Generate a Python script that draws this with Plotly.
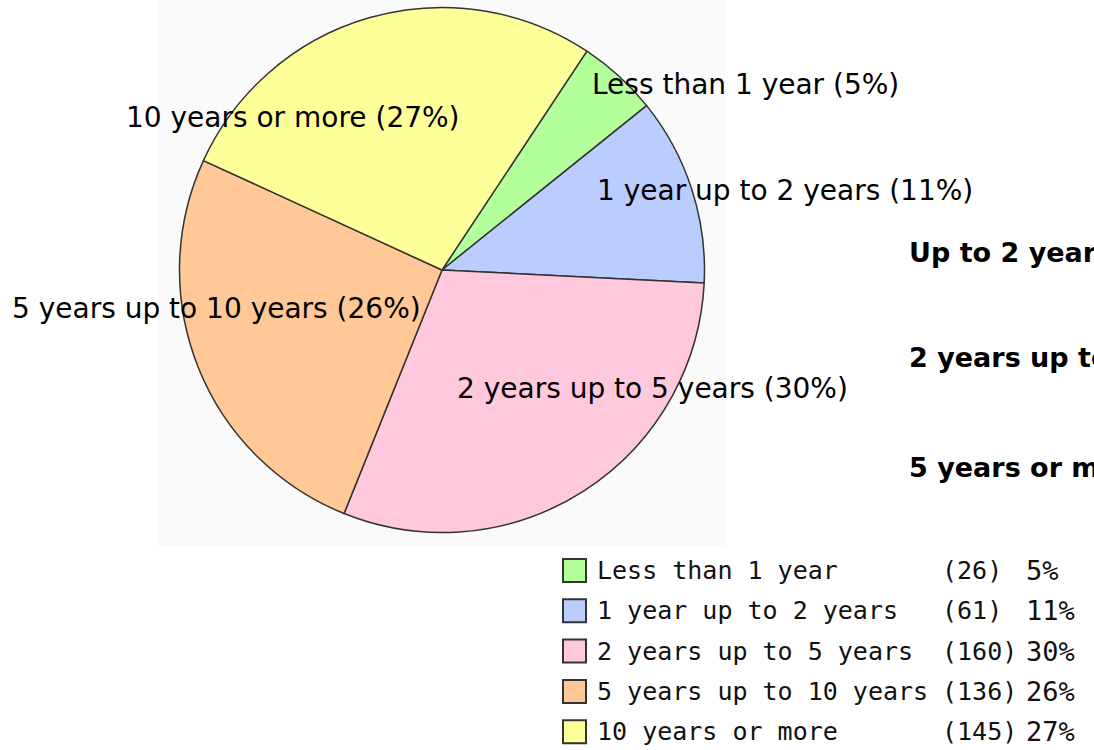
import plotly.graph_objects as go

# ---- data ----
labels = ["Less than 1 year", "1 year up to 2 years", "2 years up to 5 years",
          "5 years up to 10 years", "10 years or more"]
counts = [26, 61, 160, 136, 145]
pct_labels = ["5%", "11%", "30%", "26%", "27%"]
colors = ["#b3ff99", "#bbccff", "#ffc8dc", "#ffc896", "#ffff99"]
group_labels = ["Up to 2 years", "2 years up to 5 years", "5 years or more"]

W, H = 1094, 750


def px(x):
    return x / W


def py(y):
    return 1 - y / H


# ---- layout config (pixel positions) ----
pie_cx, pie_cy, pie_r = 442, 270, 262.5
label_pos = [(590, 85), (595, 190), (455, 388), (10, 308), (124, 117)]
group_pos = [(907, 252), (907, 357), (907, 467)]
leg_x_sw, leg_sw = 563, 23
leg_x_lab, leg_x_cnt, leg_x_pct = 595, 940, 1024
leg_y0, leg_dy = 570.5, 40.3

fig = go.Figure()
fig.add_trace(go.Pie(
    labels=labels,
    values=counts,
    sort=False,
    direction="clockwise",
    rotation=33.5,
    marker=dict(colors=colors, line=dict(color="#333333", width=1.5)),
    textinfo="none",
    hoverinfo="label+value+percent",
    showlegend=False,
    domain=dict(x=[px(pie_cx - pie_r), px(pie_cx + pie_r)],
                y=[py(pie_cy + pie_r), py(pie_cy - pie_r)]),
))

annotations = []
shapes = []

# faint background panel behind pie
shapes.append(dict(type="rect", xref="paper", yref="paper", layer="below",
                   x0=px(158), x1=px(725), y0=py(546), y1=py(0),
                   fillcolor="#fafafa", line=dict(width=0)))

# slice labels
for (lx, ly), lab, pct in zip(label_pos, labels, pct_labels):
    annotations.append(dict(
        x=px(lx), y=py(ly), xref="paper", yref="paper",
        xanchor="left", yanchor="middle", showarrow=False,
        text=f"{lab} ({pct})",
        font=dict(family="DejaVu Sans", size=28, color="#000000"),
    ))

# grouped bold labels on the right (cut by the right edge, as in the original)
for (gx, gy), g in zip(group_pos, group_labels):
    annotations.append(dict(
        x=px(gx), y=py(gy), xref="paper", yref="paper",
        xanchor="left", yanchor="middle", showarrow=False,
        text=f"<b>{g}</b>",
        font=dict(family="DejaVu Sans", size=27, color="#000000"),
    ))

# custom legend table
mono = dict(family="DejaVu Sans Mono", size=25, color="#111111")
mono_pct = dict(family="DejaVu Sans Mono", size=27, color="#111111")
for i, (lab, c, pct, col) in enumerate(zip(labels, counts, pct_labels, colors)):
    yc = leg_y0 + i * leg_dy
    shapes.append(dict(type="rect", xref="paper", yref="paper",
                       x0=px(leg_x_sw), x1=px(leg_x_sw + leg_sw),
                       y0=py(yc + leg_sw / 2), y1=py(yc - leg_sw / 2),
                       fillcolor=col, line=dict(color="#333333", width=2)))
    for xx, txt, fnt in ((leg_x_lab, lab, mono), (leg_x_cnt, f"({c})", mono),
                         (leg_x_pct, pct, mono_pct)):
        annotations.append(dict(
            x=px(xx), y=py(yc), xref="paper", yref="paper",
            xanchor="left", yanchor="middle", showarrow=False,
            text=txt, font=fnt,
        ))

fig.update_layout(
    width=W, height=H,
    margin=dict(l=0, r=0, t=0, b=0),
    paper_bgcolor="#ffffff",
    plot_bgcolor="#ffffff",
    annotations=annotations,
    shapes=shapes,
)

fig.write_html("out.html",
               config={"displayModeBar": False},
               post_script="document.body.style.margin='0';document.body.style.overflow='hidden';")
